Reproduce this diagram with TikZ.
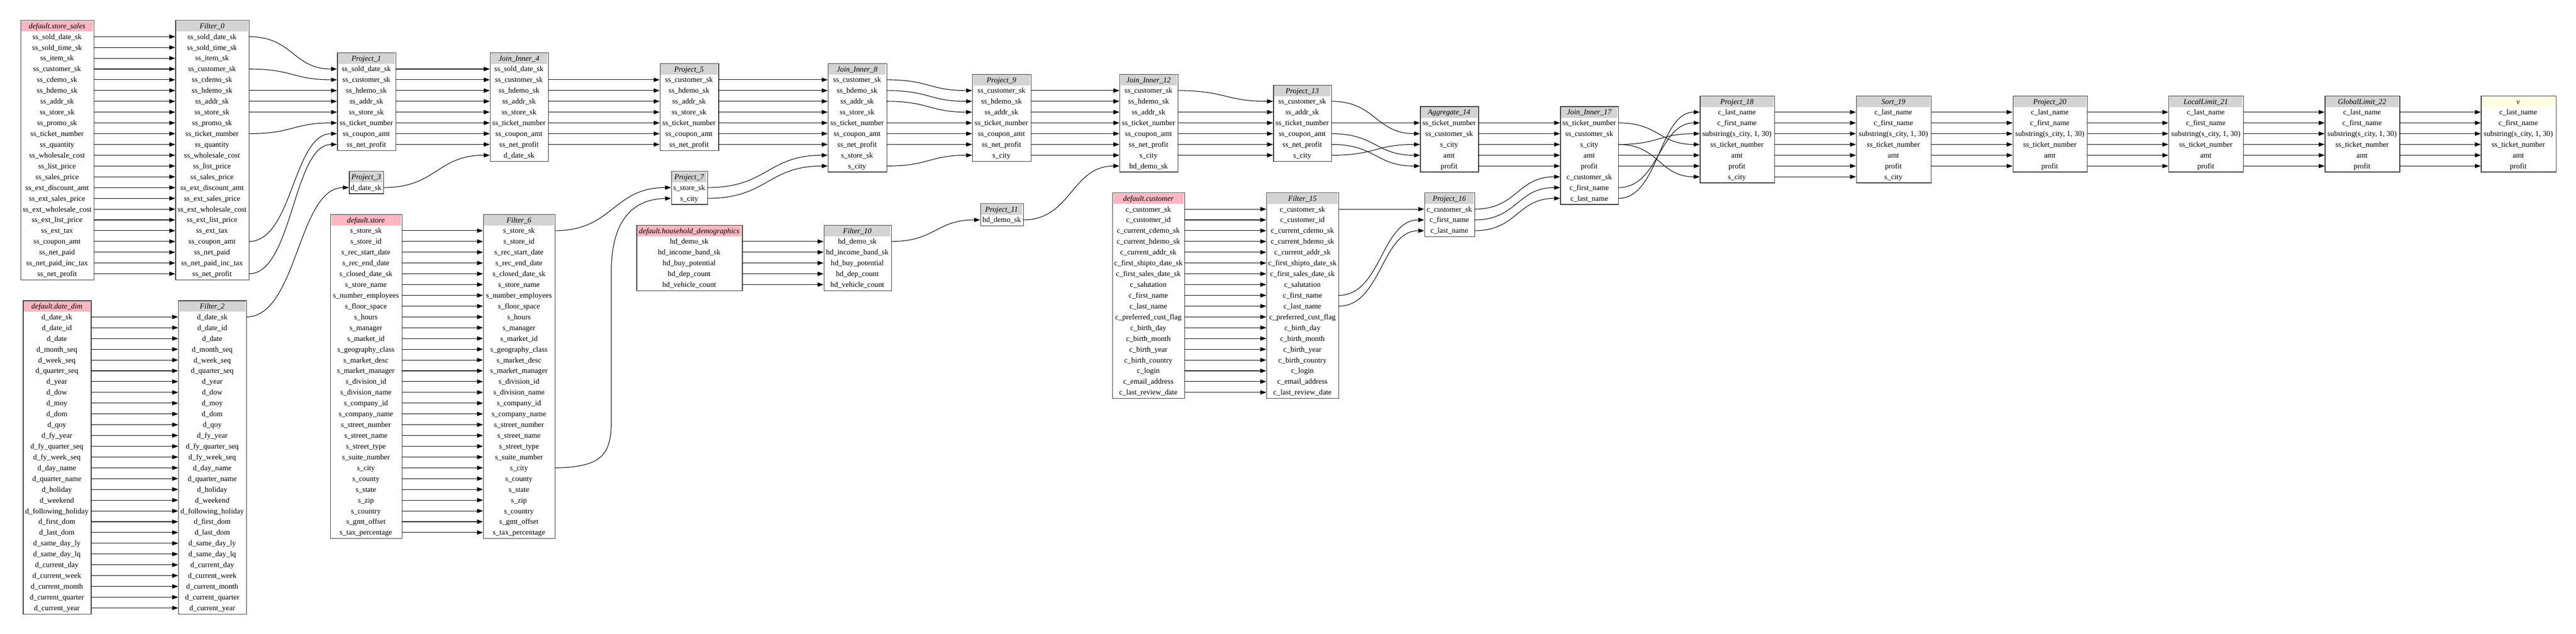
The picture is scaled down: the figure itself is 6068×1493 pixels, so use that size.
\documentclass[tikz,border=0pt]{standalone}
\usepackage{fontspec}
\setmainfont{Liberation Serif}
\usetikzlibrary{arrows.meta,calc}
\definecolor{hdrgray}{HTML}{D3D3D3}
\definecolor{hdrpink}{HTML}{FFB6C1}
\definecolor{hdryel}{HTML}{FFFFE0}
\definecolor{framec}{HTML}{3A3A3A}
\tikzset{
  rowtxt/.style={inner sep=0pt, font=\fontsize{17.8}{20}\selectfont},
  hdrtxt/.style={inner sep=0pt, anchor=base, font=\fontsize{17.8}{20}\selectfont\itshape},
  tblframe/.style={draw=framec, line width=1.6pt, fill=white, inner sep=0pt, anchor=north west},
  conn/.style={draw=black, line width=1.3pt, -{Triangle[length=14pt,width=10pt]}},
}
\newcommand\mktable[7]{%
  \pgfmathsetmacro\tblA{86.4+#4*25.4}%
  \pgfmathsetmacro\tblT{\tblA-39}%
  \pgfmathsetmacro\tblW{#3-#2}%
  \pgfmathsetmacro\tblX{(#2+#3)/2}%
  \edef\tblL{#7}%
  \foreach \r [count=\i] in \tblL {\xdef\tblN{\i}}%
  \pgfmathsetmacro\tblH{(\tblN-1)*25.4+39+13.5}%
  \node[tblframe, minimum width=\tblW pt, minimum height=\tblH pt] (#1) at (#2,\tblT) {};%
  \fill[#5] ({#2+2},{\tblT+2}) rectangle ({#3-2},{\tblT+27});%
  \node[hdrtxt] (#1h) at (\tblX,{\tblT+20}) {#6};%
  \foreach \r [count=\i] in \tblL {%
    \node[rowtxt] (#1r\i) at (\tblX,{\tblA+(\i-1)*25.4}) {\makebox[\tblW pt]{\rule[-4pt]{0pt}{20pt}\r}};}%
}
\newcommand\cn[2]{\draw[conn] let \p1=(#1.east), \p2=(#2.west) in (\p1) .. controls ({0.5*\x1+0.5*\x2},\y1) and ({0.5*\x1+0.5*\x2},\y2) .. (\p2);}
\begin{document}
\catcode`\_=12
\def\ssrows{ss_sold_date_sk,ss_sold_time_sk,ss_item_sk,ss_customer_sk,ss_cdemo_sk,ss_hdemo_sk,ss_addr_sk,ss_store_sk,ss_promo_sk,ss_ticket_number,ss_quantity,ss_wholesale_cost,ss_list_price,ss_sales_price,ss_ext_discount_amt,ss_ext_sales_price,ss_ext_wholesale_cost,ss_ext_list_price,ss_ext_tax,ss_coupon_amt,ss_net_paid,ss_net_paid_inc_tax,ss_net_profit}
\def\ddrows{d_date_sk,d_date_id,d_date,d_month_seq,d_week_seq,d_quarter_seq,d_year,d_dow,d_moy,d_dom,d_qoy,d_fy_year,d_fy_quarter_seq,d_fy_week_seq,d_day_name,d_quarter_name,d_holiday,d_weekend,d_following_holiday,d_first_dom,d_last_dom,d_same_day_ly,d_same_day_lq,d_current_day,d_current_week,d_current_month,d_current_quarter,d_current_year}
\def\strows{s_store_sk,s_store_id,s_rec_start_date,s_rec_end_date,s_closed_date_sk,s_store_name,s_number_employees,s_floor_space,s_hours,s_manager,s_market_id,s_geography_class,s_market_desc,s_market_manager,s_division_id,s_division_name,s_company_id,s_company_name,s_street_number,s_street_name,s_street_type,s_suite_number,s_city,s_county,s_state,s_zip,s_country,s_gmt_offset,s_tax_percentage}
\def\hdrows{hd_demo_sk,hd_income_band_sk,hd_buy_potential,hd_dep_count,hd_vehicle_count}
\def\curows{c_customer_sk,c_customer_id,c_current_cdemo_sk,c_current_hdemo_sk,c_current_addr_sk,c_first_shipto_date_sk,c_first_sales_date_sk,c_salutation,c_first_name,c_last_name,c_preferred_cust_flag,c_birth_day,c_birth_month,c_birth_year,c_birth_country,c_login,c_email_address,c_last_review_date}
\def\outrows{c_last_name,c_first_name,{substring(s_city, 1, 30)},ss_ticket_number,amt,profit}
\begin{tikzpicture}[x=1pt,y=-1pt]
\fill[white] (0,0) rectangle (6068,1493);
\useasboundingbox (0,0) rectangle (6068,1493);
\mktable{SS}{48}{221}{0}{hdrpink}{default.store_sales}{\ssrows}
\mktable{F0}{413}{586}{0}{hdrgray}{Filter_0}{\ssrows}
\mktable{DD}{54}{214}{26}{hdrpink}{default.date_dim}{\ddrows}
\mktable{F2}{420}{580}{26}{hdrgray}{Filter_2}{\ddrows}
\mktable{P1}{794}{932}{3}{hdrgray}{Project_1}{ss_sold_date_sk,ss_customer_sk,ss_hdemo_sk,ss_addr_sk,ss_store_sk,ss_ticket_number,ss_coupon_amt,ss_net_profit}
\mktable{P3}{822}{903}{14}{hdrgray}{Project_3}{d_date_sk}
\mktable{ST}{778}{946}{18}{hdrpink}{default.store}{\strows}
\mktable{F6}{1138}{1307}{18}{hdrgray}{Filter_6}{\strows}
\mktable{J4}{1154}{1291}{3}{hdrgray}{Join_Inner_4}{ss_sold_date_sk,ss_customer_sk,ss_hdemo_sk,ss_addr_sk,ss_store_sk,ss_ticket_number,ss_coupon_amt,ss_net_profit,d_date_sk}
\mktable{P5}{1554}{1692}{4}{hdrgray}{Project_5}{ss_customer_sk,ss_hdemo_sk,ss_addr_sk,ss_store_sk,ss_ticket_number,ss_coupon_amt,ss_net_profit}
\mktable{P7}{1581}{1666}{14}{hdrgray}{Project_7}{s_store_sk,s_city}
\mktable{HD}{1499}{1748}{19}{hdrpink}{default.household_demographics}{\hdrows}
\mktable{F10}{1940}{2099}{19}{hdrgray}{Filter_10}{\hdrows}
\mktable{J8}{1950}{2088}{4}{hdrgray}{Join_Inner_8}{ss_customer_sk,ss_hdemo_sk,ss_addr_sk,ss_store_sk,ss_ticket_number,ss_coupon_amt,ss_net_profit,s_store_sk,s_city}
\mktable{P9}{2290}{2428}{5}{hdrgray}{Project_9}{ss_customer_sk,ss_hdemo_sk,ss_addr_sk,ss_ticket_number,ss_coupon_amt,ss_net_profit,s_city}
\mktable{P11}{2309}{2410}{17}{hdrgray}{Project_11}{hd_demo_sk}
\mktable{J12}{2637}{2774}{5}{hdrgray}{Join_Inner_12}{ss_customer_sk,ss_hdemo_sk,ss_addr_sk,ss_ticket_number,ss_coupon_amt,ss_net_profit,s_city,hd_demo_sk}
\mktable{CU}{2620}{2790}{16}{hdrpink}{default.customer}{\curows}
\mktable{F15}{2983}{3153}{16}{hdrgray}{Filter_15}{\curows}
\mktable{P13}{2999}{3136}{6}{hdrgray}{Project_13}{ss_customer_sk,ss_addr_sk,ss_ticket_number,ss_coupon_amt,ss_net_profit,s_city}
\mktable{A14}{3345}{3482}{8}{hdrgray}{Aggregate_14}{ss_ticket_number,ss_customer_sk,s_city,amt,profit}
\mktable{P16}{3355}{3473}{16}{hdrgray}{Project_16}{c_customer_sk,c_first_name,c_last_name}
\mktable{J17}{3675}{3812}{8}{hdrgray}{Join_Inner_17}{ss_ticket_number,ss_customer_sk,s_city,amt,profit,c_customer_sk,c_first_name,c_last_name}
\mktable{P18}{4004}{4179}{7}{hdrgray}{Project_18}{\outrows,s_city}
\mktable{S19}{4372}{4548}{7}{hdrgray}{Sort_19}{\outrows,s_city}
\mktable{P20}{4741}{4916}{7}{hdrgray}{Project_20}{\outrows}
\mktable{L21}{5108}{5284}{7}{hdrgray}{LocalLimit_21}{\outrows}
\mktable{G22}{5476}{5652}{7}{hdrgray}{GlobalLimit_22}{\outrows}
\mktable{V}{5844}{6020}{7}{hdryel}{v}{\outrows}
% connectors
\foreach \i in {1,...,23}{\cn{SSr\i}{F0r\i}}
\foreach \i in {1,...,28}{\cn{DDr\i}{F2r\i}}
\foreach \i in {1,...,29}{\cn{STr\i}{F6r\i}}
\foreach \i in {1,...,5}{\cn{HDr\i}{F10r\i}}
\foreach \i in {1,...,18}{\cn{CUr\i}{F15r\i}}
\foreach \i in {1,...,8}{\cn{P1r\i}{J4r\i}}
\foreach \i in {1,...,7}{\cn{P5r\i}{J8r\i}\cn{P9r\i}{J12r\i}\cn{P18r\i}{S19r\i}}
\foreach \i in {1,...,5}{\cn{A14r\i}{J17r\i}}
\foreach \i in {1,...,6}{\cn{S19r\i}{P20r\i}\cn{P20r\i}{L21r\i}\cn{L21r\i}{G22r\i}\cn{G22r\i}{Vr\i}}
\foreach \a/\b in {F0r1/P1r1,F0r4/P1r2,F0r6/P1r3,F0r7/P1r4,F0r8/P1r5,F0r10/P1r6,F0r20/P1r7,F0r23/P1r8,F2r1/P3r1,P3r1/J4r9,F6r1/P7r1,J4r2/P5r1,J4r3/P5r2,J4r4/P5r3,J4r5/P5r4,J4r6/P5r5,J4r7/P5r6,J4r8/P5r7,P7r1/J8r8,P7r2/J8r9,F10r1/P11r1,J8r1/P9r1,J8r2/P9r2,J8r3/P9r3,J8r5/P9r4,J8r6/P9r5,J8r7/P9r6,J8r9/P9r7,P11r1/J12r8,J12r1/P13r1,J12r3/P13r2,J12r4/P13r3,J12r5/P13r4,J12r6/P13r5,J12r7/P13r6,F15r1/P16r1,F15r9/P16r2,F15r10/P16r3,P13r3/A14r1,P13r1/A14r2,P13r6/A14r3,P13r4/A14r4,P13r5/A14r5,P16r1/J17r6,P16r2/J17r7,P16r3/J17r8,J17r8/P18r1,J17r7/P18r2,J17r3/P18r3,J17r1/P18r4,J17r4/P18r5,J17r5/P18r6,J17r3/P18r7}{\cn{\a}{\b}}
\draw[conn] (F6r23.east) .. controls (1420,1101) and (1440,1070) .. (1440,990) -- (1440,640) .. controls (1440,520) and (1490,469) .. (P7r2.west);
\end{tikzpicture}
\end{document}
